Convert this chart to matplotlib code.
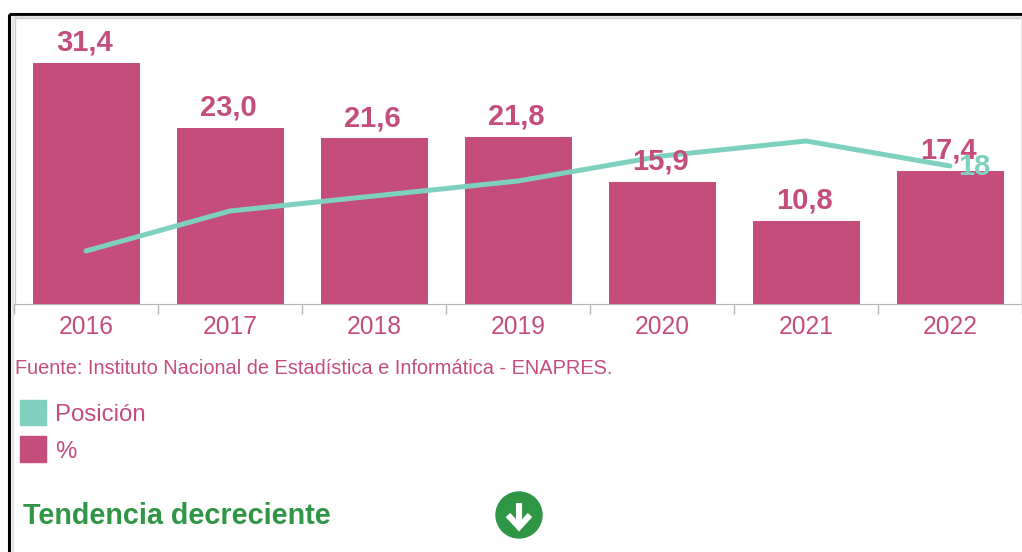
import matplotlib
matplotlib.use("Agg")
import matplotlib.pyplot as plt
import numpy as np
from matplotlib.patches import Circle, Rectangle

years = ["2016", "2017", "2018", "2019", "2020", "2021", "2022"]
pct = [31.4, 23.0, 21.6, 21.8, 15.9, 10.8, 17.4]
pct_labels = ["31,4", "23,0", "21,6", "21,8", "15,9", "10,8", "17,4"]
posicion = [35, 27, 24, 21, 16, 13, 18]
source = "Fuente: Instituto Nacional de Estadística e Informática - ENAPRES."
trend = "Tendencia decreciente"

PINK = "#c44d7c"
TEAL = "#7fd1bf"
GREEN = "#2f9645"
GRAY = "#b5b5b5"
W, H = 1022, 552

plt.rcParams["font.family"] = ["Liberation Sans", "DejaVu Sans"]

fig = plt.figure(figsize=(W / 100, H / 100), dpi=100, facecolor="white")

# pixel overlay for the page furniture around the chart
page = fig.add_axes([0, 0, 1, 1], zorder=0)
page.set_xlim(0, W)
page.set_ylim(H, 0)
page.axis("off")
page.plot([9, 9], [H, 14], color="black", lw=2.2, solid_capstyle="butt")
page.plot([9, W], [14, 14], color="black", lw=2.2, solid_capstyle="butt")
page.plot([12, W], [16.5, 16.5], color="#e2e2e2", lw=1.6, solid_capstyle="butt")
page.plot([12.5, 12.5], [H, 16], color="#e2e2e2", lw=1.6, solid_capstyle="butt")
page.plot([15, 15], [304, 18], color="#cccccc", lw=1)
page.plot([15, W], [18, 18], color="#cccccc", lw=1)
page.plot([1021, 1021], [18, 304], color="#e4e4e4", lw=0.8)

ax = fig.add_axes([14 / W, 1 - 304 / H, 1008 / W, 286 / H], zorder=1)
ax.patch.set_alpha(0)
x = np.arange(len(years))
ax.bar(x, pct, width=107 / 144, color=PINK)

ax.set_xlim(-0.5, 6.5)
ax.set_ylim(0, 37.3)
ax.set_yticks([])
ax.set_xticks(np.arange(-0.5, 7))
ax.set_xticklabels([])
ax.set_xticks(x, minor=True)
ax.set_xticklabels(years, minor=True, fontsize=17.7, color=PINK)
ax.tick_params(axis="x", which="major", length=7, width=1, color=GRAY)
ax.tick_params(axis="x", which="minor", length=0, pad=8)
for side in ["top", "right", "left"]:
    ax.spines[side].set_visible(False)
ax.spines["bottom"].set_color(GRAY)

# position is a rank, so its axis runs downwards
ax2 = ax.twinx()
ax2.plot(x, posicion, color=TEAL, lw=3.6, solid_capstyle="round")
ax2.set_ylim(45.6, -11.6)
ax2.set_yticks([])
for side in ["top", "right", "left", "bottom"]:
    ax2.spines[side].set_visible(False)

# labels go on the upper axes so they sit over the line
for xi, val, lab in zip(x, pct, pct_labels):
    ax2.annotate(lab, (xi, val), xycoords=ax.transData, xytext=(-1, 4.5),
                 textcoords="offset points", ha="center", va="bottom",
                 fontsize=21, fontweight="bold", color=PINK)
ax2.annotate(str(posicion[-1]), (x[-1], posicion[-1]), xytext=(17.5, -1),
             textcoords="offset points", ha="center", va="center",
             fontsize=21, fontweight="bold", color=TEAL)

# source, legend and trend
over = fig.add_axes([0, 0, 1, 1], zorder=2)
over.set_xlim(0, W)
over.set_ylim(H, 0)
over.axis("off")
over.text(15, 369, source, fontsize=14.4, color=PINK, ha="left", va="center")
over.add_patch(Rectangle((20, 400), 26, 25, color=TEAL))
over.add_patch(Rectangle((20, 436), 26, 26, color=PINK))
over.text(55, 415, "Posición", fontsize=17.3, color=PINK, ha="left", va="center")
over.text(55, 452, "%", fontsize=17.3, color=PINK, ha="left", va="center")
over.text(23, 516, trend, fontsize=20.7, fontweight="bold", color=GREEN, ha="left", va="center")
over.add_patch(Circle((519, 515), 23, color=GREEN))
over.plot([519, 519], [503, 526], color="white", lw=4.4, solid_capstyle="butt")
over.plot([508, 519, 530], [515, 527, 515], color="white", lw=4.4, solid_capstyle="butt",
          solid_joinstyle="miter")

fig.savefig("out.png", dpi=100)
